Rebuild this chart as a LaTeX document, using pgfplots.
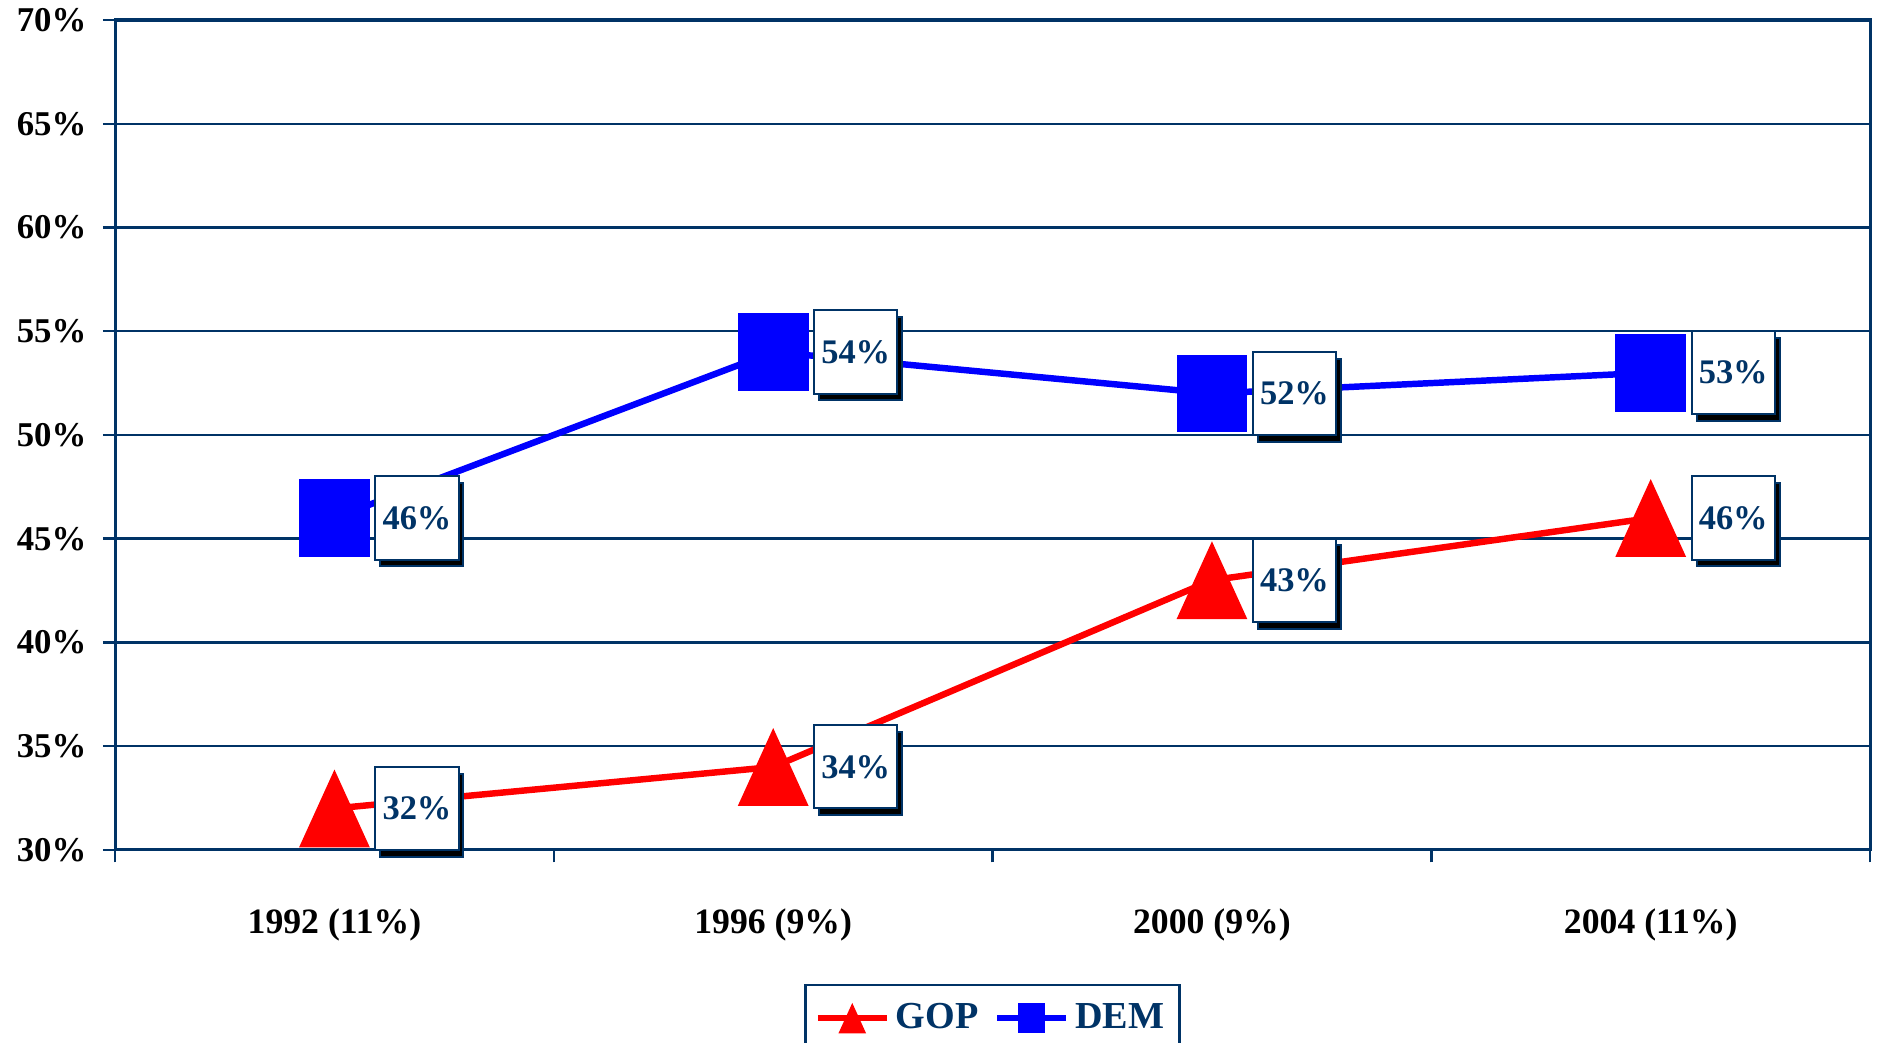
\documentclass[border=0pt]{standalone}
\usepackage{fontspec}
\setmainfont{Liberation Serif}
\usepackage{pgfplots}
\pgfplotsset{compat=1.18}
\usetikzlibrary{shadows}
\definecolor{navy}{RGB}{0,51,102}
\definecolor{gopred}{RGB}{255,0,0}
\definecolor{demblue}{RGB}{0,0,255}

% markers as in the original: centred on the point, a bit taller than wide
\pgfdeclareplotmark{gtri}{%
  \pgfpathmoveto{\pgfqpoint{0pt}{1.1\pgfplotmarksize}}%
  \pgfpathlineto{\pgfqpoint{-\pgfplotmarksize}{-1.1\pgfplotmarksize}}%
  \pgfpathlineto{\pgfqpoint{\pgfplotmarksize}{-1.1\pgfplotmarksize}}%
  \pgfpathclose\pgfusepathqfill}
\pgfdeclareplotmark{dsq}{%
  \pgfpathrectanglecorners{\pgfqpoint{-\pgfplotmarksize}{-1.1\pgfplotmarksize}}{\pgfqpoint{\pgfplotmarksize}{1.1\pgfplotmarksize}}%
  \pgfusepathqfill}

\begin{document}
\begin{tikzpicture}
\begin{axis}[
    name=ax,
    width=570.4pt, height=269.75pt, scale only axis,
    xmin=-0.5, xmax=3.5, ymin=30, ymax=70,
    clip=false,
    axis line style={navy, line width=1pt},
    ymajorgrids, major grid style={navy, line width=0.8pt},
    tick style={navy, line width=0.8pt},
    tick align=outside, tick pos=left, major tick length=4pt,
    ytick={30,35,...,70},
    yticklabels={30\%,35\%,40\%,45\%,50\%,55\%,60\%,65\%,70\%},
    xtick={-0.5,0.5,1.5,2.5,3.5},
    xticklabels={,,,,},
    extra x ticks={0,1,2,3},
    extra x tick labels={1992 (11\%),1996 (9\%),2000 (9\%),2004 (11\%)},
    extra x tick style={major tick length=0pt},
    ticklabel style={font=\bfseries\fontsize{11.3}{13}\selectfont, text=black},
    yticklabel style={xshift=-1.8pt},
    xticklabel style={yshift=-15.6pt, font=\bfseries\fontsize{11.6}{13}\selectfont},
    /pgf/number format/assume math mode=true,
    nodes near coords={\pgfmathprintnumber{\pgfplotspointmeta}\%},
    every node near coord/.append style={anchor=west, xshift=13pt,
        fill=white, draw=navy, line width=0.65pt, text=navy,
        font=\bfseries\fontsize{11.2}{13}\selectfont,
        minimum width=27pt, minimum height=27pt, inner sep=0pt,
        drop shadow={shadow xshift=1.6pt, shadow yshift=-2.2pt, fill=black, opacity=1}},
    legend style={at={(0.5,-0.161)}, anchor=north, legend columns=-1,
        draw=navy, line width=0.8pt, text=navy,
        font=\bfseries\fontsize{12.4}{14}\selectfont,
        /tikz/every even column/.append style={column sep=3pt},
        inner xsep=3pt, inner ysep=4pt},
    legend image code/.code={
        \draw[mark repeat=2,mark phase=2,mark size=4.5pt,line width=2pt]
        plot coordinates {(0pt,0pt)(11.2pt,0pt)(22.4pt,0pt)};},
]
\addplot[gopred, line width=2.1pt, mark=gtri, mark size=11.5pt,
    mark options={fill=gopred}]
    coordinates {(0,32)(1,34)(2,43)(3,46)};
\addlegendentry{GOP}
\addplot[demblue, line width=2.1pt, mark=dsq, mark size=11.5pt,
    mark options={fill=demblue}]
    coordinates {(0,46)(1,54)(2,52)(3,53)};
\addlegendentry{DEM}
\end{axis}
\pgfresetboundingbox
\path[use as bounding box] ([shift={(-37.4pt,-62.7pt)}]ax.south west)
    rectangle ([shift={(2.9pt,6.5pt)}]ax.north east);
\end{tikzpicture}
\end{document}
